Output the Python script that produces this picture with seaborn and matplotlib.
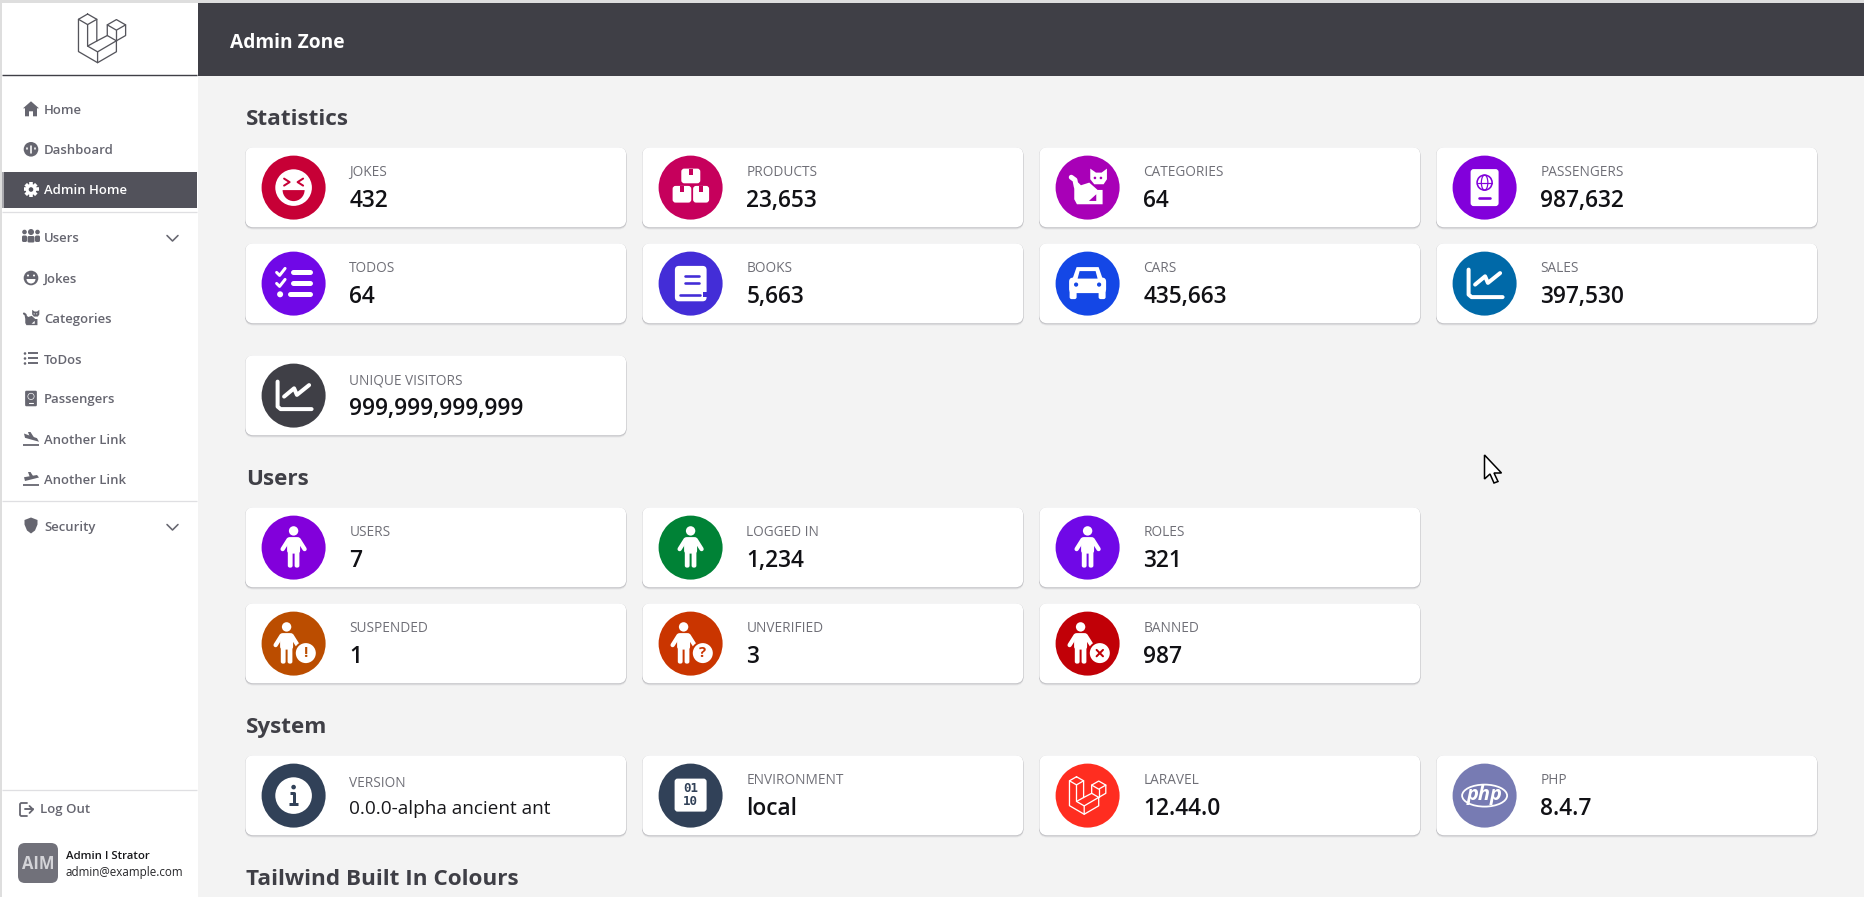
import numpy as np
import pandas as pd
import matplotlib
matplotlib.use("Agg")
import matplotlib.pyplot as plt
from matplotlib.patches import Circle, Wedge, Polygon, FancyBboxPatch, Ellipse, Rectangle
import seaborn as sns

# ---- content -------------------------------------------------------------
stat_labels = ["JOKES", "PRODUCTS", "CATEGORIES", "PASSENGERS", "TODOS", "BOOKS", "CARS", "SALES", "UNIQUE VISITORS"]
stat_values = ["432", "23,653", "64", "987,632", "64", "5,663", "435,663", "397,530", "999,999,999,999"]
stat_colors = ["#c70036", "#c6005c", "#a800b7", "#8200db", "#7008e7", "#432dd7", "#1447e6", "#0069a8", "#3f3f46"]
stat_icons = ["face", "boxes", "cat", "passport", "list", "book", "car", "chart", "chart"]

user_labels = ["USERS", "LOGGED IN", "ROLES", "SUSPENDED", "UNVERIFIED", "BANNED"]
user_values = ["7", "1,234", "321", "1", "3", "987"]
user_colors = ["#8200db", "#008236", "#7008e7", "#bb4d00", "#ca3500", "#c10007"]
user_icons = ["person", "person", "person", "p!", "p?", "px"]

sys_labels = ["VERSION", "ENVIRONMENT", "LARAVEL", "PHP"]
sys_values = ["0.0.0-alpha ancient ant", "local", "12.44.0", "8.4.7"]
sys_colors = ["#314158", "#314158", "#ff2d20", "#777bb3"]
sys_icons = ["info", "binary", "laravel", "php"]

headings = ["Statistics", "Users", "System", "Tailwind Built In Colours"]
menu_labels = ["Home", "Dashboard", "Admin Home", "Users", "Jokes", "Categories", "ToDos", "Passengers", "Another Link", "Another Link", "Security"]
menu_icons = ["home", "dial", "gear", "users", "smile", "cat", "list", "passport", "land", "takeoff", "shield"]

# ---- layout (pixels) ------------------------------------------------------
W, H = 1865, 897
CARD_W, CARD_H = 381, 80
COLS = [245.3, 642.3, 1039.3, 1436.3]
stat_pos = [(0, 147.3), (1, 147.3), (2, 147.3), (3, 147.3), (0, 243.3), (1, 243.3), (2, 243.3), (3, 243.3), (0, 355.3)]
user_pos = [(0, 507.3), (1, 507.3), (2, 507.3), (0, 603.3), (1, 603.3), (2, 603.3)]
sys_pos = [(0, 755.3), (1, 755.3), (2, 755.3), (3, 755.3)]
heading_y = [117, 477, 725, 877]
menu_y = [109.3, 149.3, 189.5, 236.5, 278, 318, 358.5, 398.5, 438.5, 478.5, 525.5]

BG = "#f3f3f3"
DARK = "#3f3f46"
FONT = "Open Sans"

sns.set_theme(style="white")
plt.rcParams["font.family"] = [FONT, "DejaVu Sans"]

fig = plt.figure(figsize=(W / 100, H / 100), dpi=100, facecolor=BG)
ax = fig.add_axes([0, 0, 1, 1])
ax.set_xlim(0, W)
ax.set_ylim(H, 0)
ax.axis("off")


def px(v):
    return v * 0.72


def rrect(x0, y0, x1, y1, r, fc, z=3, **kw):
    r = min(r, abs(x1 - x0) / 2, abs(y1 - y0) / 2)
    ax.add_patch(FancyBboxPatch((x0 + r, y0 + r), x1 - x0 - 2 * r, y1 - y0 - 2 * r,
                                boxstyle=f"round,pad={r}", fc=fc, ec="none", zorder=z, **kw))


def poly(pts, fc, z=6):
    ax.add_patch(Polygon(pts, closed=True, fc=fc, ec="none", zorder=z))


def line(pts, c, w, z=6, cap="round"):
    xs, ys = zip(*pts)
    ax.plot(xs, ys, color=c, lw=px(w), solid_capstyle=cap, solid_joinstyle="round", zorder=z)


def txt(x, y, s, size, color, weight="normal", ha="left", va="center_baseline", z=8, **kw):
    kw.setdefault("family", [FONT, "DejaVu Sans"])
    ax.text(x, y, s, fontsize=px(size), color=color, fontweight=weight, ha=ha, va=va, zorder=z, **kw)


# ---- icons ----------------------------------------------------------------
def ic_face(c, y, f, b, s=1):
    ax.add_patch(Circle((c, y), 18.3 * s, fc=f, ec="none", zorder=6))
    if s > 0.6:
        line([(c - 9.5, y - 9), (c - 4, y - 5.5), (c - 9.5, y - 2)], b, 2, 7)
        line([(c + 9.5, y - 9), (c + 4, y - 5.5), (c + 9.5, y - 2)], b, 2, 7)
        ax.add_patch(Wedge((c, y + 2.5), 11, 0, 180, fc=b, ec="none", zorder=7))
    else:
        ax.add_patch(Wedge((c, y + 1), 4.5, 0, 180, fc=b, ec="none", zorder=7))
        ax.add_patch(Circle((c - 3, y - 2.5), 1, fc=b, ec="none", zorder=7))
        ax.add_patch(Circle((c + 3, y - 2.5), 1, fc=b, ec="none", zorder=7))


def ic_boxes(c, y, f, b, s=1):
    for x0, x1, y0, y1 in [(-9.3, 9.7, -19, -4.3), (-18, 0.7, -1.7, 15), (2.5, 18.5, -1.7, 15)]:
        rrect(c + x0, y + y0, c + x1, y + y1, 3, f, 6)
        m = (x0 + x1) / 2
        ax.add_patch(Rectangle((c + m - 2.2, y + y0), 4.4, 6, fc=b, ec="none", zorder=7))


def ic_cat(c, y, f, b, s=1):
    conv = lambda pts: [(c + (p - 120) / 3 * s, y + (q - 115) / 3 * s) for p, q in pts]
    poly(conv([(80, 100), (92, 100), (100, 108), (125, 100), (150, 122), (165, 122), (165, 165), (88, 165), (80, 150)]), f)
    line(conv([(71, 84), (82, 92), (86, 112)]), f, 5 * s)
    poly(conv([(128, 58), (145, 70), (162, 70), (178, 58), (178, 90), (168, 105), (140, 105), (128, 90)]), f)
    poly(conv([(124, 155), (146, 135), (146, 155)]), b, 7)
    ax.add_patch(Circle(conv([(142, 86)])[0], 1.3 * s, fc=b, ec="none", zorder=7))
    ax.add_patch(Circle(conv([(160, 86)])[0], 1.3 * s, fc=b, ec="none", zorder=7))


def ic_passport(c, y, f, b, s=1):
    rrect(c - 14 * s, y - 18.5 * s, c + 14 * s, y + 18.5 * s, 3 * s, f, 6)
    ax.add_patch(Circle((c, y - 5 * s), 7.5 * s, fc="none", ec=b, lw=px(1.6 * s), zorder=7))
    if s > 0.6:
        ax.add_patch(Ellipse((c, y - 5), 6.5, 15, fc="none", ec=b, lw=px(1.2), zorder=7))
        line([(c - 7, y - 5), (c + 7, y - 5)], b, 1.2, 7)
    line([(c - 5.5 * s, y + 10.5 * s), (c + 5.5 * s, y + 10.5 * s)], b, 2.6 * s, 7)


def ic_list(c, y, f, b, s=1):
    for dy in [-11.7, -0.7]:
        line([(c + -17 * s, y + (dy + 0.5) * s), (c - 14 * s, y + (dy + 3.5) * s), (c - 8.5 * s, y + (dy - 3.5) * s)], f, 3 * s)
    ax.add_patch(Circle((c - 13.5 * s, y + 10.7 * s), 3 * s, fc=f, ec="none", zorder=6))
    line([(c - 0.5 * s, y - 11.7 * s), (c + 16 * s, y - 11.7 * s)], f, 5 * s)
    line([(c - 0.5 * s, y - 0.7 * s), (c + 16 * s, y - 0.7 * s)], f, 5 * s)
    line([(c - 4 * s, y + 10.7 * s), (c + 16 * s, y + 10.7 * s)], f, 5 * s)


def ic_book(c, y, f, b, s=1):
    rrect(c - 15.7, y - 17.7, c + 16, y + 17.7, 4, f, 6)
    for dy, x0, x1 in [(-7.5, -5.5, 8.5), (-1, -5.5, 8.5), (11, -10.5, 9)]:
        line([(c + x0, y + dy), (c + x1, y + dy)], b, 2.6, 7)
    ax.add_patch(Rectangle((c + 12.5, y + 8), 4, 5, fc=b, ec="none", zorder=7))


def ic_car(c, y, f, b, s=1):
    poly([(c - 11, y - 16.5), (c + 11, y - 16.5), (c + 15, y - 5), (c - 15, y - 5)], f)
    rrect(c - 18.5, y - 6, c + 18.5, y + 9.5, 4, f, 6)
    rrect(c - 18, y + 6, c - 11, y + 15.5, 2, f, 6)
    rrect(c + 11, y + 6, c + 18, y + 15.5, 2, f, 6)
    poly([(c - 8, y - 12.5), (c + 8, y - 12.5), (c + 10, y - 5), (c - 10, y - 5)], b, 7)
    for sx in (-1, 1):
        ax.add_patch(Circle((c + sx * 11.5, y + 1), 2.1, fc=b, ec="none", zorder=7))


def ic_chart(c, y, f, b, s=1):
    line([(c - 16, y - 14), (c - 16, y + 11), (c - 13, y + 13.5), (c + 18, y + 13.5)], f, 4)
    line([(c - 9.5, y + 1), (c + 0.5, y - 7.3), (c + 3.3, y - 0.7), (c + 15.5, y - 10.5)], f, 4)


def ic_person(c, y, f, b, s=1):
    ax.add_patch(Circle((c, y - 16.7), 4.7, fc=f, ec="none", zorder=6))
    rrect(c - 6.5, y - 10.5, c + 6.5, y + 6, 3, f, 6)
    line([(c - 5, y - 8), (c - 11, y + 1.5)], f, 4.3)
    line([(c + 5, y - 8), (c + 11, y + 1.5)], f, 4.3)
    rrect(c - 5.8, y + 3, c - 1, y + 20, 2, f, 6)
    rrect(c + 1, y + 3, c + 5.8, y + 20, 2, f, 6)


def ic_badge(c, y, f, b, glyph):
    ic_person(c - 7, y, f, b)
    ax.add_patch(Circle((c + 12.2, y + 9.5), 12, fc=b, ec="none", zorder=7))
    ax.add_patch(Circle((c + 12.2, y + 9.5), 10, fc=f, ec="none", zorder=8))
    if glyph == "x":
        line([(c + 9, y + 6.3), (c + 15.4, y + 12.7)], b, 2, 9)
        line([(c + 15.4, y + 6.3), (c + 9, y + 12.7)], b, 2, 9)
    else:
        txt(c + 12.2, y + 9.5, glyph, 15, b, "bold", ha="center", va="center", z=9)


def ic_info(c, y, f, b, s=1):
    ax.add_patch(Circle((c, y), 18.3, fc=f, ec="none", zorder=6))
    ax.add_patch(Circle((c, y - 8.5), 2.3, fc=b, ec="none", zorder=7))
    line([(c - 3.5, y - 3), (c + 0.5, y - 3), (c + 0.5, y + 8)], b, 3, 7, "butt")
    line([(c - 4.5, y + 8.5), (c + 4.5, y + 8.5)], b, 3, 7, "butt")


def ic_binary(c, y, f, b, s=1):
    rrect(c - 16, y - 17, c + 16, y + 16, 3, f, 6)
    txt(c, y - 6.7, "01", 12.5, b, "bold", ha="center", va="center", family="DejaVu Sans Mono")
    txt(c, y + 5.7, "10", 12.5, b, "bold", ha="center", va="center", family="DejaVu Sans Mono")


LOGO = [[(10, .5), (.5, 6), (.5, 39.6), (20.4, 51.2), (40, 39.8), (40, 28.4), (49.6, 22.9), (49.6, 11.8), (40, 6.3), (30.5, 11.8), (30.5, 22.9), (19.6, 28.6), (19.6, 6), (10, .5)],
        [(.5, 6), (10, 11.5), (19.6, 6)], [(10, 11.5), (10, 33.9), (20.4, 39.9), (20.4, 51.2)],
        [(20.4, 39.9), (40, 28.4), (30.5, 22.9)], [(30.5, 11.8), (40, 17.3), (49.6, 11.8)], [(40, 17.3), (40, 28.4)],
        [(10, 33.9), (19.6, 28.6)]]


def ic_logo(c, y, f, width, lw):
    k = width / 50
    for seg in LOGO:
        line([(c + (p - 25) * k, y + (q - 26) * k) for p, q in seg], f, lw)


def ic_php(c, y, f, b, s=1):
    ax.add_patch(Ellipse((c, y), 45, 22, fc="none", ec=f, lw=px(1.8), zorder=7))
    txt(c, y - 1, "php", 20, f, "bold", ha="center", va="center", style="italic")


def draw_icon(name, c, y, f, b):
    if name == "laravel":
        ic_logo(c, y, f, 37, 1.3)
    elif name in ("p!", "p?", "px"):
        ic_badge(c, y, f, b, name[1])
    else:
        {"face": ic_face, "boxes": ic_boxes, "cat": ic_cat, "passport": ic_passport, "list": ic_list,
         "book": ic_book, "car": ic_car, "chart": ic_chart, "person": ic_person, "info": ic_info,
         "binary": ic_binary, "php": ic_php}[name](c, y, f, b)


# ---- page chrome -----------------------------------------------------------
ax.add_patch(Rectangle((0, 0), W, 3, fc="#dedede", ec="none", zorder=1))
ax.add_patch(Rectangle((0, 0), 2, H, fc="#dedede", ec="none", zorder=2))
ax.add_patch(Rectangle((2, 3), 196, H, fc="white", ec="none", zorder=1))
ax.add_patch(Rectangle((198, 3), W - 198, 73, fc=DARK, ec="none", zorder=2))
txt(230, 40.5, "Admin Zone", 19.2, "white", "bold")
ic_logo(102, 38.5, "#55555c", 48, 1.3)
line([(2, 75.5), (197, 75.5)], DARK, 1.4, 3, "butt")

for y_ in [212, 501, 790]:
    line([(2, y_), (197, y_)], "#dfdfe2", 1.3, 3, "butt")
ax.add_patch(Rectangle((2, 172), 195, 36, fc="#52525b", ec="none", zorder=3))
ax.add_patch(Rectangle((2, 172), 2, 36, fc="#a9a9ae", ec="none", zorder=4))

GREY = "#666670"
for label, icon, y_ in zip(menu_labels, menu_icons, menu_y):
    active = label == "Admin Home"
    col = "white" if active else GREY
    bgc = "#52525b" if active else "white"
    txt(44, y_, label, 13.1, col, "semibold")
    c = 31
    if icon == "home":
        poly([(c, y_ - 8), (c + 8, y_ - 1), (c + 6, y_ - 1), (c + 6, y_ + 7), (c + 2, y_ + 7), (c + 2, y_ + 2), (c - 2, y_ + 2), (c - 2, y_ + 7), (c - 6, y_ + 7), (c - 6, y_ - 1), (c - 8, y_ - 1)], col)
    elif icon == "dial":
        ax.add_patch(Circle((c, y_), 7.3, fc=col, ec="none", zorder=6))
        line([(c, y_ + 4), (c, y_ - 3)], bgc, 1.6, 7)
        line([(c - 4.3, y_ - 1), (c - 4.3, y_)], bgc, 1.6, 7)
        line([(c + 4.3, y_ - 1), (c + 4.3, y_)], bgc, 1.6, 7)
    elif icon == "gear":
        t = np.arange(8) * np.pi / 4
        for a in t:
            line([(c, y_), (c + 7.5 * np.cos(a), y_ + 7.5 * np.sin(a))], col, 3.6, 6, "butt")
        ax.add_patch(Circle((c, y_), 5.4, fc=col, ec="none", zorder=6))
        ax.add_patch(Circle((c, y_), 2.3, fc=bgc, ec="none", zorder=7))
    elif icon == "users":
        for dx_, r in [(-6.5, 2.3), (6.5, 2.3), (0, 3)]:
            ax.add_patch(Circle((c + dx_, y_ - 4.5), r, fc=col, ec="none", zorder=6))
        rrect(c - 9, y_ - 1, c - 4, y_ + 5.5, 1.5, col, 6)
        rrect(c + 4, y_ - 1, c + 9, y_ + 5.5, 1.5, col, 6)
        rrect(c - 3.5, y_ - 0.5, c + 3.5, y_ + 6, 1.5, col, 6)
    elif icon == "smile":
        ic_face(c, y_, col, bgc, 0.4)
    elif icon == "cat":
        ic_cat(c, y_, col, bgc, 0.43)
    elif icon == "list":
        for d in (-5, 0, 5):
            ax.add_patch(Circle((c - 6, y_ + d), 1.3, fc=col, ec="none", zorder=6))
            line([(c - 3, y_ + d), (c + 7, y_ + d)], col, 1.9, 6, "butt")
    elif icon == "passport":
        ic_passport(c, y_, col, bgc, 0.42)
    elif icon in ("land", "takeoff"):
        tilt = 0.28 if icon == "land" else -0.25
        base = y_ + 6.5
        pts = [(-7, -1), (6, 0), (8, 3), (-6, 3)]
        poly([(c + p, y_ - 2 + q + p * tilt) for p, q in pts], col)
        poly([(c - 3, y_ - 6.5), (c - 0.5, y_ - 6.5), (c + 3, y_ - 1), (c - 1, y_ - 1)], col)
        line([(c - 8, base), (c + 8, base)], col, 1.8, 6, "butt")
    elif icon == "shield":
        poly([(c, y_ - 8), (c + 6.5, y_ - 5.5), (c + 6.5, y_ - 1), (c + 4, y_ + 5), (c, y_ + 8), (c - 4, y_ + 5), (c - 6.5, y_ - 1), (c - 6.5, y_ - 5.5)], col)

for y_ in (238, 527):
    line([(167, y_ - 2.5), (172.5, y_ + 3), (178, y_ - 2.5)], GREY, 1.6, 6)

# log out + account
line([(27, 803), (21, 803), (20, 804), (20, 815), (21, 816), (27, 816)], GREY, 1.8, 6)
line([(25, 809.5), (33, 809.5)], GREY, 1.9, 6)
line([(29.5, 806), (33, 809.5), (29.5, 813)], GREY, 1.8, 6)
txt(39.5, 808, "Log Out", 13.3, GREY, "semibold")
rrect(18, 843, 58, 883, 7, "#71717a", 5)
txt(38, 864, "AIM", 16.5, "#d4d4d8", "bold", ha="center", va="center")
txt(66, 855, "Admin I Strator", 11.4, "#18181b", "semibold")
txt(66, 871, "admin@example.com", 11.6, "#27272a")

# ---- headings ---------------------------------------------------------------
for text, y_ in zip(headings, heading_y):
    txt(246, y_, text, 22.5, DARK, "bold")

# ---- cards ------------------------------------------------------------------
labels = stat_labels + user_labels + sys_labels
values = stat_values + user_values + sys_values
colors = stat_colors + user_colors + sys_colors
icons = stat_icons + user_icons + sys_icons
cells = stat_pos + user_pos + sys_pos

frame = pd.DataFrame({
    "label": labels,
    "x": [COLS[c] + 48.3 for c, _ in cells],
    "y": [r + CARD_H / 2 + .3 for _, r in cells],
})

for (col, top), label, value in zip(cells, labels, values):
    x0 = COLS[col]
    for off, alpha in [(3.2, .10), (2.2, .22), (1.2, .35)]:
        rrect(x0 - .3, top + off - 1, x0 + CARD_W + .3, top + CARD_H + off - 1, 8, "#777780", 3, alpha=alpha)
    rrect(x0, top, x0 + CARD_W, top + CARD_H, 8, "white", 4)
    small = label == "VERSION"
    txt(x0 + 104, top + (26 if small else 23.5), label, 13.6, "#6f6f77", "normal")
    if small:
        txt(x0 + 104, top + 51.5, value, 19, "#18181b", "normal")
    else:
        txt(x0 + 104, top + 50.5, value, 22.8, "#111115", "semibold")

sns.scatterplot(data=frame, x="x", y="y", hue="label", palette=dict(zip(labels, colors)),
                s=px(64) ** 2, linewidth=0, legend=False, ax=ax, zorder=5)
ax.set_xlim(0, W)
ax.set_ylim(H, 0)
ax.set_xlabel("")
ax.set_ylabel("")

for (col, top), name, color in zip(cells, icons, colors):
    draw_icon(name, COLS[col] + 48.3, top + CARD_H / 2 + .3, "white", color)

# ---- mouse pointer -----------------------------------------------------------
cur = np.array([(0, 0), (0, 24), (5.5, 19), (9.5, 28), (13.5, 26.5), (9.5, 18), (17, 18)])
ax.add_patch(Polygon(cur + [1484.5, 455], closed=True, fc="white", ec="black", lw=1.1, zorder=9))

fig.savefig("out.png", dpi=100, facecolor=BG)
